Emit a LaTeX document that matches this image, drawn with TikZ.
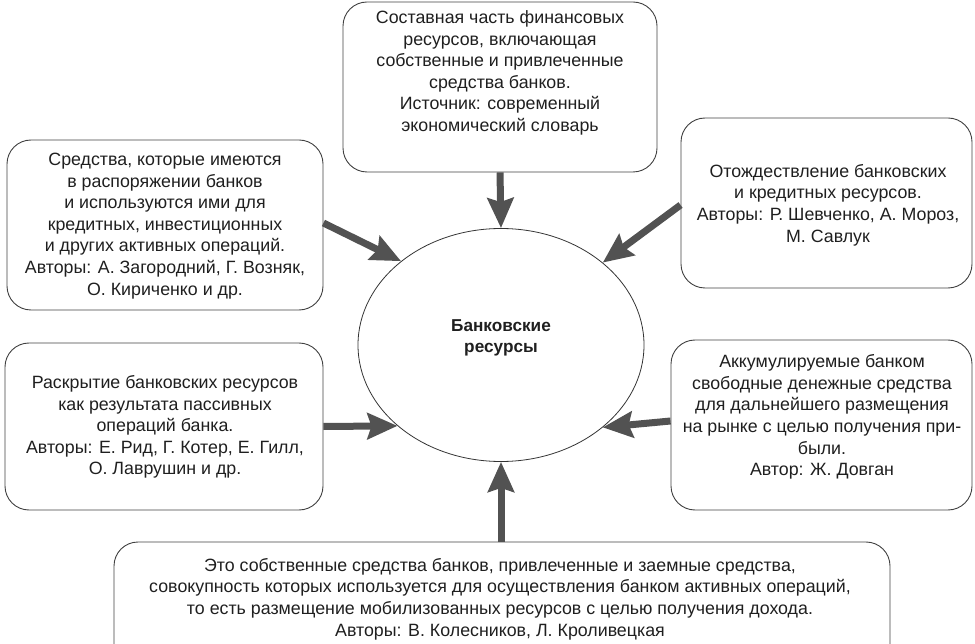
\documentclass[tikz,border=0pt]{standalone}
\usepackage{fontspec}
\setmainfont{Liberation Sans}
\usetikzlibrary{arrows.meta,shapes.geometric}
\begin{document}
\begin{tikzpicture}[x=1pt,y=-1pt,
  box/.style={draw=black!75, line width=0.9pt, rounded corners=24pt, inner sep=0pt},
  txt/.style={align=center, font=\fontsize{17.8}{21.6}\selectfont, text=black!88, inner sep=0pt},
  arr/.style={draw=black!68, line width=7pt, -{Stealth[length=30pt,width=26pt,inset=4pt]}}]
\useasboundingbox (0,0) rectangle (975,644);
\clip (0,0) rectangle (975,644);
% boxes
\node[box, minimum width=314pt, minimum height=170pt] (t) at (500,87) {};
\node[box, minimum width=316pt, minimum height=170pt] (lt) at (165,225) {};
\node[box, minimum width=291pt, minimum height=170pt] (rt) at (826.5,203) {};
\node[box, minimum width=318pt, minimum height=167pt] (lb) at (164,426.5) {};
\node[box, minimum width=301pt, minimum height=170pt] (rb) at (821.5,425) {};
\node[box, minimum width=776pt, minimum height=140pt] (b) at (502,612) {};
% ellipse
\node[ellipse, draw=black!80, line width=0.8pt, minimum width=286pt, minimum height=233pt, inner sep=0pt] (e) at (501,345) {};
\node[txt, font=\bfseries\fontsize{17.2}{21.6}\selectfont] (et) at (501,338) {Банковские\\ресурсы};
% texts
\node[txt] (tt) at (500,73) {Составная часть финансовых\\ресурсов, включающая\\собственные и привлеченные\\средства банков.\\Источник: современный\\экономический словарь};
\node[txt] (ltt) at (165,226) {Средства, которые имеются\\в распоряжении банков\\и используются ими для\\кредитных, инвестиционных\\и других активных операций.\\Авторы: А. Загородний, Г. Возняк,\\О. Кириченко и др.};
\node[txt] (rtt) at (828,205) {Отождествление банковских\\и кредитных ресурсов.\\Авторы: Р. Шевченко, А. Мороз,\\М. Савлук};
\node[txt] (lbt) at (165,427) {Раскрытие банковских ресурсов\\как результата пассивных\\операций банка.\\Авторы: Е. Рид, Г. Котер, Е. Гилл,\\О. Лаврушин и др.};
\node[txt] (rbt) at (822,417) {Аккумулируемые банком\\свободные денежные средства\\для дальнейшего размещения\\на рынке с целью получения при-\\были.\\Автор: Ж. Довган};
\node[txt] (bt) at (500,599) {Это собственные средства банков, привлеченные и заемные средства,\\совокупность которых используется для осуществления банком активных операций,\\то есть размещение мобилизованных ресурсов с целью получения дохода.\\Авторы: В. Колесников, Л. Кроливецкая};
% arrows
\draw[arr] (t.south) -- (e.north);
\draw[arr] (e.south |- b.north) -- (e.south);
\draw[arr] ([yshift=2pt]lt.east) -- (e.140.6);
\draw[arr] ([yshift=-2pt]rt.west) -- (e.39.1);
\draw[arr] (lb.east) -- (e.218.5);
\draw[arr] ([yshift=4pt]rb.west) -- (e.321.7);
\end{tikzpicture}
\end{document}
